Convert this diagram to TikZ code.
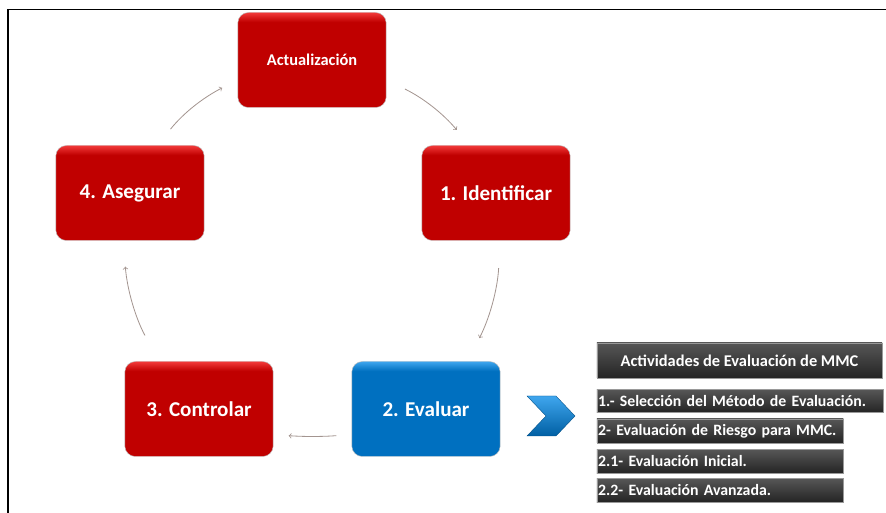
\documentclass[tikz,border=0pt]{standalone}
\usepackage{fontspec}
\setmainfont{Carlito}
\usetikzlibrary{arrows,positioning,calc}
\definecolor{boxred}{HTML}{C00000}
\definecolor{boxredhi}{HTML}{F23A3A}
\definecolor{boxblue}{HTML}{0070C0}
\definecolor{boxbluehi}{HTML}{3FA6EE}
\definecolor{arrowgray}{HTML}{A39590}
\pgfdeclareverticalshading{redshade}{100bp}{color(0bp)=(boxred); color(70bp)=(boxred); color(75bp)=(boxredhi); color(100bp)=(boxredhi)}
\pgfdeclareverticalshading{blueshade}{100bp}{color(0bp)=(boxblue); color(70bp)=(boxblue); color(75bp)=(boxbluehi); color(100bp)=(boxbluehi)}
\tikzset{
  stagebox/.style={rounded corners=9pt,draw=black!25,minimum width=4.45cm,minimum height=2.85cm,
    text=white,font=\bfseries\fontsize{18}{20}\selectfont},
  redbox/.style={stagebox,shading=redshade},
  bluebox/.style={stagebox,shading=blueshade},
  graybox/.style={top color=black!66,bottom color=black!86,draw=black!40,text=white,
    font=\bfseries\fontsize{13.5}{15}\selectfont,inner xsep=1pt,inner ysep=0pt,align=left},
  cyc/.style={->,draw=arrowgray,line width=0.7pt}
}
\begin{document}
\begin{tikzpicture}[x=0.03cm,y=0.03cm]
\useasboundingbox (0,0) rectangle (886,513);

\draw[line width=1.6pt] (886,503.5)--(8,503.5)--(8,0);

\node[redbox,font=\bfseries\fontsize{14}{16}\selectfont] (act) at (312,453) {Actualización};
\node[redbox] (ident) at (496,320) {1. Identificar};
\node[bluebox] (eval) at (426,104) {2. Evaluar};
\node[redbox] (contr) at (199,104) {3. Controlar};
\node[redbox] (aseg) at (130,320) {4. Asegurar};

\draw[cyc,shorten <=0.62cm,shorten >=0.6cm] (act.-15) to[bend left=12] (ident.119);
\draw[cyc,shorten <=0.82cm,shorten >=0.78cm] (ident.-85) to[bend left=12] (eval.49);
\draw[cyc,shorten <=0.46cm,shorten >=0.46cm] (eval.199) to[bend left=4] (contr.-19);
\draw[cyc,shorten <=0.88cm,shorten >=0.78cm] (contr.130) to[bend left=12] (aseg.262);
\draw[cyc,shorten <=0.62cm,shorten >=0.52cm] (aseg.60) to[bend left=12] (act.195);

\shade[top color=boxbluehi,bottom color=boxblue!85!black,draw=boxblue!70!black,line width=0.3pt]
  (527,117)--(556,117)--(575,97)--(556,77)--(527,77)--(546,97)--cycle;

\node[graybox,minimum width=8.55cm,minimum height=1.05cm,align=center,font=\bfseries\fontsize{14}{16}\selectfont] (acttitle) at (739.5,152.5)
  {Actividades de Evaluación de MMC};
\node[graybox,text width=8.52cm,minimum height=0.69cm,below=0.33cm of acttitle.south west,anchor=north west] (item1)
  {1.- Selección del Método de Evaluación.};
\node[graybox,text width=7.32cm,minimum height=0.72cm,below=0.18cm of item1.south west,anchor=north west] (item2)
  {2- Evaluación de Riesgo para MMC.};
\node[graybox,text width=7.32cm,minimum height=0.72cm,below=0.18cm of item2.south west,anchor=north west] (item3)
  {2.1- Evaluación Inicial.};
\node[graybox,text width=7.32cm,minimum height=0.72cm,below=0.13cm of item3.south west,anchor=north west] (item4)
  {2.2- Evaluación Avanzada.};
\end{tikzpicture}
\end{document}
